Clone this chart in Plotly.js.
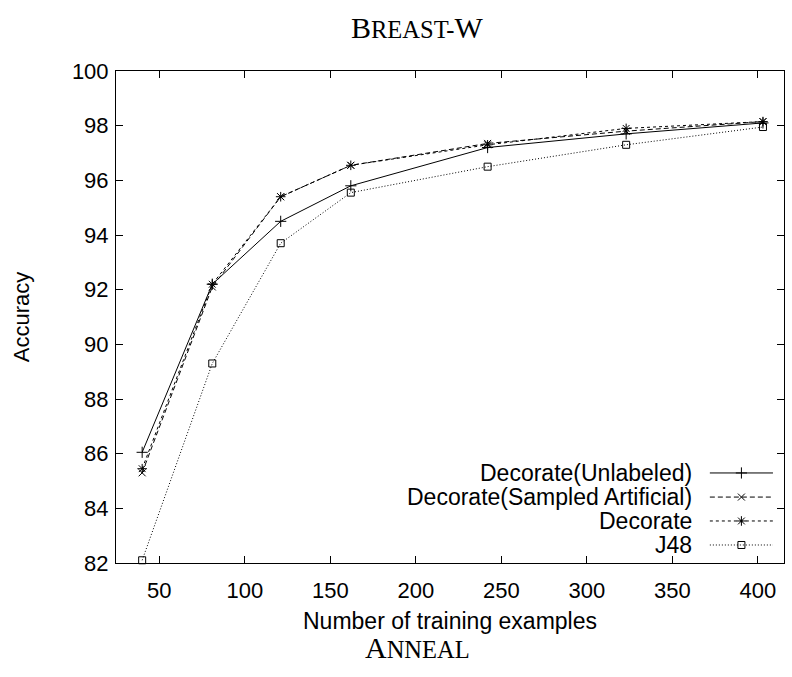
<!DOCTYPE html>
<html>
<head>
<meta charset="utf-8">
<script src="https://cdn.plot.ly/plotly-3.0.1.min.js"></script>
<style>html,body{margin:0;padding:0;background:#fff;}</style>
</head>
<body>
<div id="chart" style="width:792px;height:677px;"></div>
<script>
// ---- data ----
const trainingExamples = [40, 81, 121, 162, 242, 323, 403];
const decorateUnlabeled = [86.05, 92.2, 94.5, 95.8, 97.2, 97.7, 98.1];
const decorateSampled   = [85.3, 92.1, 95.4, 96.55, 97.35, 97.8, 98.15];
const decorate          = [85.45, 92.2, 95.4, 96.55, 97.3, 97.9, 98.15];
const j48               = [82.1, 89.3, 93.7, 95.55, 96.5, 97.3, 97.95];
const seriesNames = ['Decorate(Unlabeled)', 'Decorate(Sampled Artificial)', 'Decorate', 'J48'];

// ---- styles ----
const styles = [
  {dash: 'solid',     symbol: 'cross-thin-open', size: 8},
  {dash: '5px,3px',   symbol: 'x-thin-open',     size: 7},
  {dash: '3px,3px',   symbol: 'asterisk-open',   size: 8},
  {dash: '1px,2px',   symbol: 'square-open',     size: 7}
];
const seriesValues = [decorateUnlabeled, decorateSampled, decorate, j48];

const traces = seriesValues.map((vals, i) => ({
  type: 'scatter', mode: 'lines+markers',
  x: trainingExamples, y: vals, name: seriesNames[i],
  showlegend: false, cliponaxis: false,
  line: {color: '#000', width: 1, dash: styles[i].dash},
  marker: {symbol: styles[i].symbol, size: styles[i].size, color: '#000',
           line: {color: '#000', width: 1}}
}));

// ---- custom legend (gnuplot style: text right, sample on right) ----
const legRowsY = [0.183, 0.134, 0.0854, 0.0366];
const legX0 = 0.889, legX1 = 0.9835, legXm = (legX0 + legX1) / 2;
const legTextX = 0.865;
const annotations = [];
const txtFont = {family: 'Liberation Sans, Arial, sans-serif', size: 23, color: '#000'};
seriesNames.forEach((name, i) => {
  traces.push({
    type: 'scatter', mode: 'lines', xaxis: 'x2', yaxis: 'y2',
    x: [legX0, legX1], y: [legRowsY[i], legRowsY[i]],
    showlegend: false, hoverinfo: 'skip',
    line: {color: '#000', width: 1, dash: styles[i].dash}
  });
  traces.push({
    type: 'scatter', mode: 'markers', xaxis: 'x2', yaxis: 'y2',
    x: [legXm], y: [legRowsY[i]], showlegend: false, hoverinfo: 'skip',
    marker: {symbol: styles[i].symbol, size: styles[i].size, color: '#000',
             line: {color: '#000', width: 1}}
  });
  annotations.push({
    xref: 'paper', yref: 'paper', x: legTextX, y: legRowsY[i],
    xanchor: 'right', yanchor: 'middle', showarrow: false, text: name,
    font: txtFont
  });
});

// titles (small caps, serif)
annotations.push({
  xref: 'paper', yref: 'paper', x: 0.452, y: 1.088, xanchor: 'center', yanchor: 'middle',
  showarrow: false,
  text: "B<span style='font-size:24.5px'>REAST-</span>W",
  font: {family: 'Liberation Serif, Times New Roman, serif', size: 30, color: '#000'}
});
annotations.push({
  xref: 'paper', yref: 'paper', x: 0.452, y: -0.172, xanchor: 'center', yanchor: 'middle',
  showarrow: false,
  text: "A<span style='font-size:24.5px'>NNEAL</span>",
  font: {family: 'Liberation Serif, Times New Roman, serif', size: 30, color: '#000'}
});

const axFont = {family: 'Liberation Sans, Arial, sans-serif', size: 22, color: '#000'};
const layout = {
  width: 792, height: 677,
  margin: {l: 116, r: 8, t: 71, b: 114},
  paper_bgcolor: '#fff', plot_bgcolor: '#fff',
  showlegend: false,
  font: axFont,
  xaxis: {
    range: [24.7, 415.3], tick0: 0, dtick: 50,
    ticks: 'inside', ticklen: 7, tickwidth: 1, tickcolor: '#000',
    showline: true, mirror: 'ticks', linecolor: '#000', linewidth: 1,
    showgrid: false, zeroline: false, tickfont: axFont, ticklabelstandoff: 8,
    title: {text: 'Number of training examples', font: txtFont, standoff: 10}
  },
  yaxis: {
    range: [82, 100], tick0: 0, dtick: 2,
    ticks: 'inside', ticklen: 7, tickwidth: 1, tickcolor: '#000',
    showline: true, mirror: 'ticks', linecolor: '#000', linewidth: 1,
    showgrid: false, zeroline: false, tickfont: axFont, ticklabelstandoff: 2,
    title: {text: 'Accuracy', font: axFont, standoff: 36}
  },
  xaxis2: {overlaying: 'x', range: [0, 1], visible: false, fixedrange: true},
  yaxis2: {overlaying: 'y', range: [0, 1], visible: false, fixedrange: true},
  annotations: annotations
};

Plotly.newPlot('chart', traces, layout, {displayModeBar: false, staticPlot: true});
</script>
</body>
</html>
